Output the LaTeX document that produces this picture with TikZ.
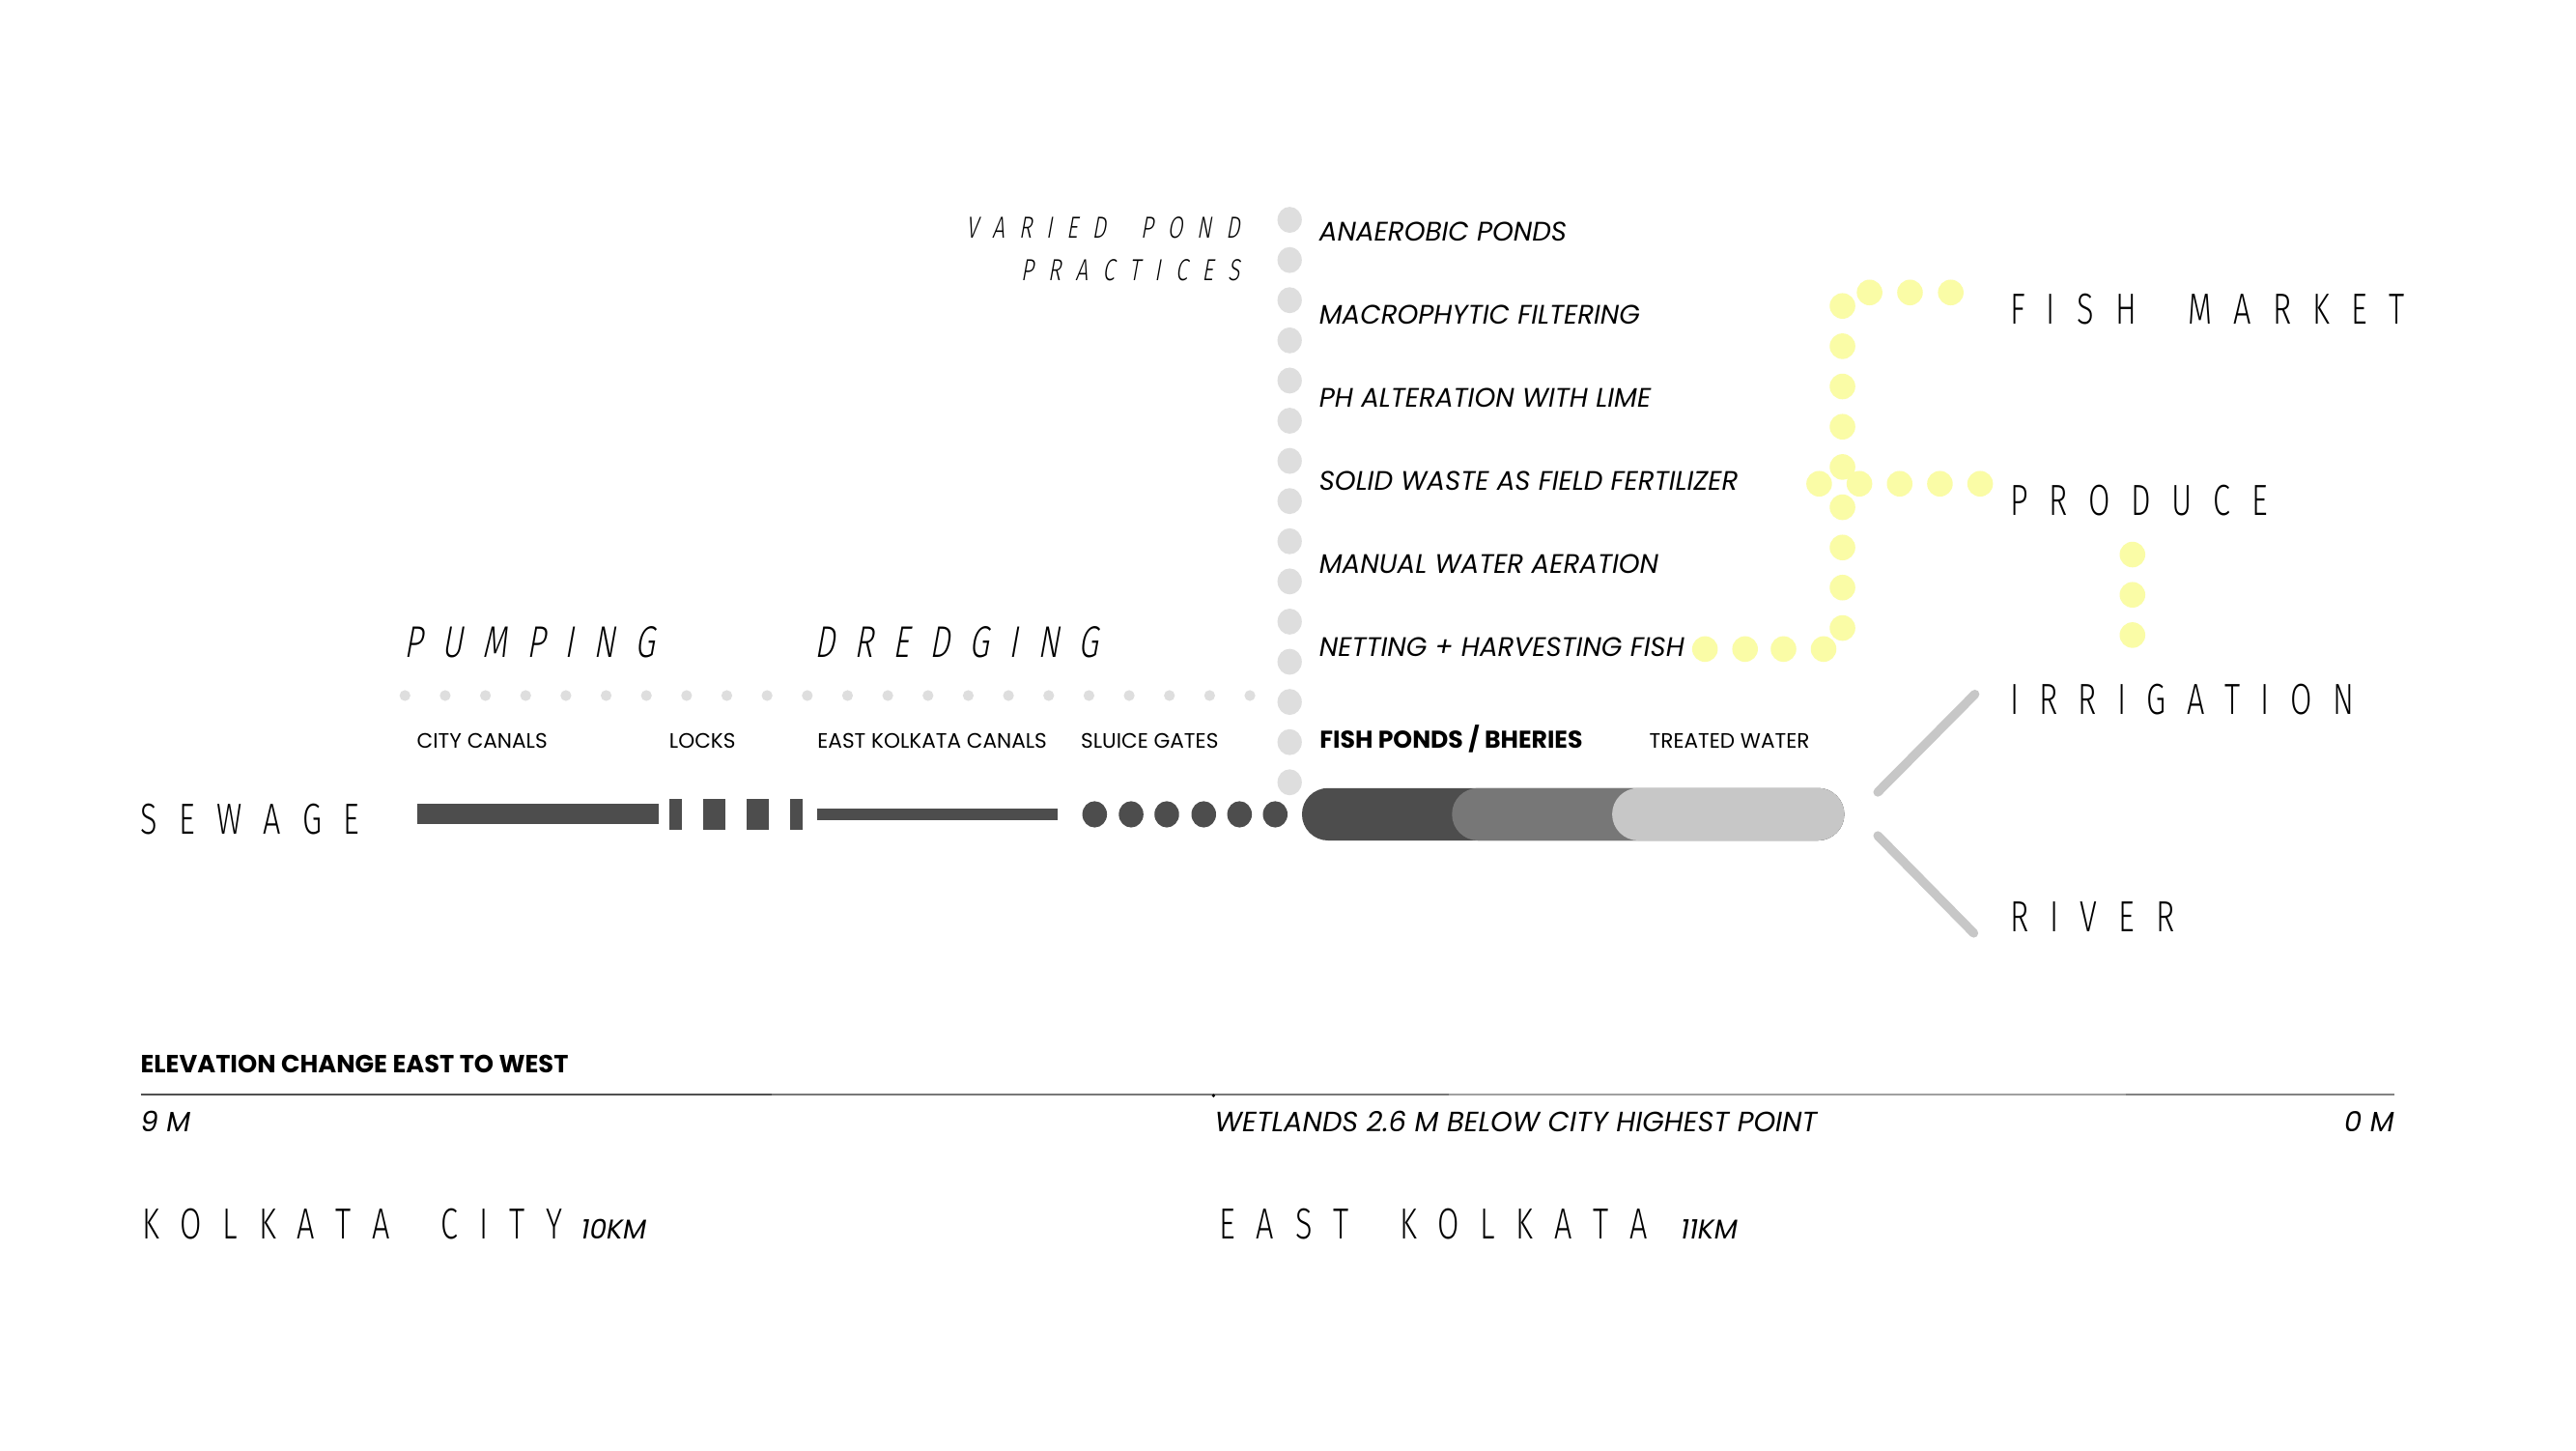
\documentclass[tikz,border=0pt]{standalone}
\usepackage{fontspec}
\setmainfont{Poppins}
\IfFontExistsTF{Fira Sans Light}{%
  \newfontfamily\thinf{Fira Sans Light}[FakeStretch=0.72]%
  \newfontfamily\thinit{Fira Sans Light}[FakeStretch=0.72,FakeSlant=0.18]%
}{%
  \newfontfamily\thinf{Liberation Sans}[FakeStretch=0.65]%
  \newfontfamily\thinit{Liberation Sans}[FakeStretch=0.65,FakeSlant=0.18]%
}
\makeatletter
\newcommand\lsp[2]{{\def\lsp@k{#1}\lsp@a#2\relax\relax}}
\def\lsp@a#1#2{#1\ifx\relax#2\else\kern\lsp@k\relax\expandafter\lsp@a\expandafter#2\fi}
\makeatother
\definecolor{dk}{HTML}{4D4D4D}
\definecolor{md}{HTML}{777777}
\definecolor{lt}{HTML}{C7C7C7}
\definecolor{dotg}{HTML}{DEDEDE}
\definecolor{ylw}{HTML}{FAFCA6}
\begin{document}
\begin{tikzpicture}[x=1pt,y=-1pt,
  every node/.style={inner sep=0pt,outer sep=0pt},
  big/.style={anchor=base west,font=\thinf\fontsize{26.5}{28}\selectfont},
  bigit/.style={anchor=base west,font=\thinit\fontsize{27}{29}\selectfont},
  midit/.style={anchor=base east,font=\thinit\fontsize{18.5}{20}\selectfont},
  lst/.style={anchor=base west,font=\itshape\fontsize{16.3}{18}\selectfont},
  sml/.style={anchor=base west,font=\fontsize{12.7}{14}\selectfont},
  smlb/.style={anchor=base west,font=\bfseries\fontsize{14.8}{16}\selectfont},
  elevb/.style={anchor=base west,font=\bfseries\fontsize{15.1}{17}\selectfont},
  elev/.style={anchor=base west,font=\itshape\fontsize{17}{19}\selectfont},
  km/.style={anchor=base west,font=\itshape\fontsize{16.5}{18}\selectfont},
  greydot/.style={fill=dotg},
  ydot/.style={fill=ylw},
  bar/.style={fill=dk},
  branch/.style={draw=lt,line width=5.5pt,line cap=round}]
\useasboundingbox (0,0) rectangle (1568,882.6);
\fill[white] (0,0) rectangle (1568,882.6);

% grey vertical column of pond practices
\foreach \i in {0,...,14}
  \fill[greydot] (785,133.8+24.45*\i) circle[x radius=7.4pt,y radius=7.9pt];
% grey horizontal dotted row
\foreach \i in {0,...,21}
  \fill[greydot] (246.5+24.49*\i,423.3) circle[radius=3.3pt];

% yellow dots
\foreach \p in {(1121.5,186.2),(1138,178),(1162.6,178),(1187.4,178),
  (1121.5,210.7),(1121.5,235.2),(1121.5,259.7),(1121.5,284.2),(1121.5,308.7),
  (1121.5,333.2),(1121.5,357.6),(1121.5,382.2),
  (1107.3,294.4),(1131.8,294.4),(1156.3,294.4),(1180.8,294.4),(1205.3,294.4),
  (1037.8,395),(1062.2,395),(1085.6,395),(1110,395),
  (1298,337.5),(1298,362),(1298,386.5)}
  \fill[ydot] \p circle[radius=7.8pt];

% sewage line
\fill[bar] (253.9,489.3) rectangle (400.9,501.7);
\fill[bar] (407.3,486) rectangle (415.1,504.8);
\fill[bar] (427.9,486) rectangle (441.4,504.8);
\fill[bar] (454.5,486) rectangle (468,504.8);
\fill[bar] (481.1,486) rectangle (488.6,504.8);
\fill[bar] (497.3,491.9) rectangle (643.9,499.3);
\foreach \x in {666.3,688.5,710.2,732.7,754.5,776.2}
  \fill[bar] (\x,495.6) ellipse[x radius=7.5pt,y radius=8pt];
% fish pond pill
\fill[dk, rounded corners=15.9pt] (792.5,479.6) rectangle (1122.6,511.5);
\fill[md, rounded corners=15.9pt] (883.8,479.6) rectangle (1122.6,511.5);
\fill[lt, rounded corners=15.9pt] (981.3,479.6) rectangle (1122.6,511.5);

% branches
\coordinate (irA) at (1143,482.1);
\coordinate (irB) at (1202.1,422.5);
\coordinate (rvA) at (1143,508.6);
\coordinate (rvB) at (1201.4,567.9);
\draw[branch] (irA) -- (irB);
\draw[branch] (rvA) -- (rvB);

% big labels
\node[big] (fishmarket) at (1223.5,197.5) {\lsp{13.1pt}{FISH~MARKET}};
\node[big] (produce) at (1223.5,313.5) {\lsp{12.8pt}{PRODUCE}};
\node[big] (irrigation) at (1223.5,434.7) {\lsp{12.5pt}{IRRIGATION}};
\node[big] (river) at (1223.5,566.8) {\lsp{13.1pt}{RIVER}};
\node[big] (sewage) at (85.6,507.6) {\lsp{13.1pt}{SEWAGE}};
\node[big] (kolkata) at (86.6,753.9) {\lsp{12.8pt}{KOLKATA~CITY}};
\node[big] (eastk) at (742.3,753.9) {\lsp{12.8pt}{EAST~KOLKATA}};
\node[km] (km10) at (353.7,753.9) {10KM};
\node[km] (km11) at (1023,753.9) {11KM};

% italic spaced headings
\node[bigit] (pumping) at (246,399.8) {\lsp{12pt}{PUMPING}};
\node[bigit] (dredging) at (496,399.8) {\lsp{12pt}{DREDGING}};
\node[midit] (varied) at (754.5,145.2) {\lsp{8.7pt}{VARIED~POND}};
\node[midit] (practices) at (754.5,170.9) {\lsp{8.9pt}{PRACTICES}};

% pond practices list
\node[lst] (p1) at (803,146.4) {ANAEROBIC PONDS};
\node[lst] (p2) at (803,197.0) {MACROPHYTIC FILTERING};
\node[lst] (p3) at (803,247.6) {PH ALTERATION WITH LIME};
\node[lst] (p4) at (803,298.2) {SOLID WASTE AS FIELD FERTILIZER};
\node[lst] (p5) at (803,348.8) {MANUAL WATER AERATION};
\node[lst] (p6) at (803,399.4) {NETTING + HARVESTING FISH};

% small labels
\node[sml] (citycanals) at (253.8,455.6) {CITY CANALS};
\node[sml] (locks) at (407.4,455.6) {LOCKS};
\node[sml] (ekcanals) at (497.6,455.6) {EAST KOLKATA CANALS};
\node[sml] (sluice) at (658,455.6) {SLUICE GATES};
\node[smlb] (fishponds) at (803.3,455.6) {FISH PONDS / BHERIES};
\node[sml] (treated) at (1004,455.6) {TREATED WATER};

% elevation
\node[elevb] (elevtitle) at (85.6,652.6) {ELEVATION CHANGE EAST TO WEST};
\coordinate (e0) at (85.6,666.3);
\coordinate (e1) at (469.8,666.3);
\coordinate (e2) at (881.9,666.3);
\coordinate (e3) at (1294,666.3);
\coordinate (e4) at (1457.3,666.3);
\draw[line width=1.1pt,color={rgb,255:red,80;green,80;blue,80}] (e0) -- (e1);
\draw[line width=1.1pt,color={rgb,255:red,120;green,120;blue,120}] (e1) -- (e2);
\draw[line width=1.1pt,color={rgb,255:red,160;green,160;blue,160}] (e2) -- (e3);
\draw[line width=1.1pt,color={rgb,255:red,130;green,130;blue,130}] (e3) -- (e4);
\fill[black] (738.6,666.8) circle[radius=1.1pt];
\node[elev] (nine) at (85.6,688.9) {9 M};
\node[elev] (wetlands) at (739.6,688.9) {WETLANDS 2.6 M BELOW CITY HIGHEST POINT};
\node[elev,anchor=base east] (zero) at (1457.3,688.9) {0 M};
\end{tikzpicture}
\end{document}
